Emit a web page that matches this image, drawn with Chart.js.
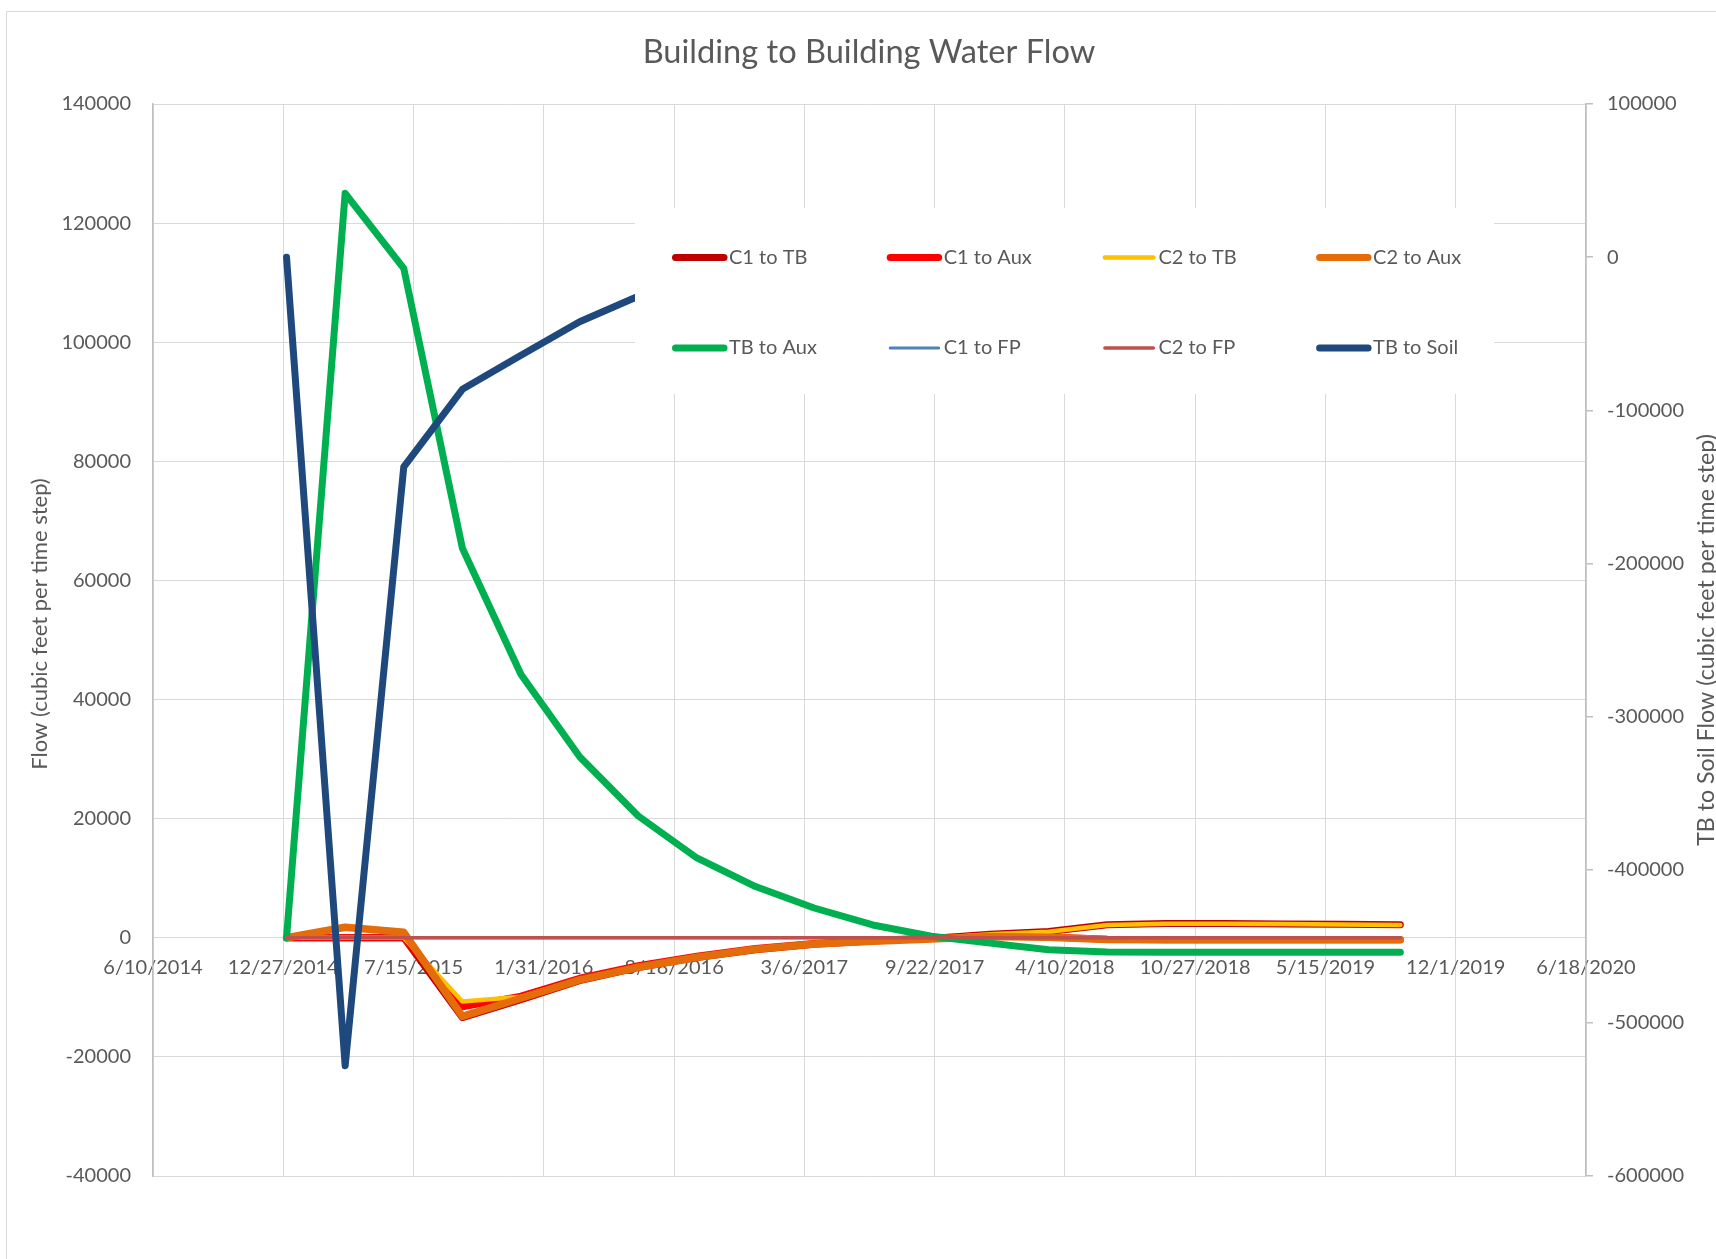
<!DOCTYPE html>
<html><head><meta charset="utf-8">
<script src="https://cdn.jsdelivr.net/npm/chart.js@4.4.1/dist/chart.umd.min.js"></script>
<style>
html,body{margin:0;padding:0;background:#fff;overflow:hidden;width:1716px;height:1259px;}
#frame{position:absolute;left:6px;top:11px;width:1800px;height:1400px;border:1px solid #d9d9d9;box-sizing:border-box;}
canvas{position:absolute;left:0;top:0;}
</style></head><body>
<div id="frame"></div>
<canvas id="c" width="1716" height="1259"></canvas>
<script>
const chartTitle = 'Building to Building Water Flow';
const leftAxisTitle = 'Flow (cubic feet per time step)';
const rightAxisTitle = 'TB to Soil Flow (cubic feet per time step)';

const dates = ['1/1/2015','4/1/2015','6/30/2015','9/28/2015','12/27/2015','3/26/2016','6/24/2016','9/22/2016','12/21/2016','3/21/2017',
               '6/19/2017','9/17/2017','12/16/2017','3/16/2018','6/14/2018','9/12/2018','12/11/2018','3/11/2019','6/9/2019','9/7/2019'];

const xTickLabels = ['6/10/2014','12/27/2014','7/15/2015','1/31/2016','8/18/2016','3/6/2017','9/22/2017','4/10/2018','10/27/2018','5/15/2019','12/1/2019','6/18/2020'];
const leftTicks = [-40000,-20000,0,20000,40000,60000,80000,100000,120000,140000];
const rightTicks = [-600000,-500000,-400000,-300000,-200000,-100000,0,100000];

const seriesNames = ['C1 to TB','C1 to Aux','C2 to TB','C2 to Aux','TB to Aux','C1 to FP','C2 to FP','TB to Soil'];

const c1ToTB  = [0, 0, 0, -13400, -10400, -7200, -5000, -3300, -2000, -1100, -550, -100, 600, 1050, 2200, 2380, 2380, 2330, 2280, 2180];
const c1ToAux = [0, 0, 0, -11600, -9800, -6800, -4700, -3100, -1800, -950, -450, -50, 300, 150, -250, -320, -320, -320, -320, -320];
const c2ToTB  = [0, 0, 0, -10700, -9900, -7000, -4900, -3250, -1950, -1050, -550, -100, 580, 1000, 2150, 2350, 2350, 2300, 2250, 2150];
const c2ToAux = [0, 1760, 920, -13200, -10160, -7080, -4950, -3280, -1940, -1040, -590, -200, 200, 100, -300, -350, -350, -350, -350, -350];
const tbToAux = [0, 125000, 112400, 65400, 44200, 30400, 20450, 13400, 8600, 5000, 2150, 250, -900, -2000, -2400, -2450, -2450, -2450, -2450, -2450];
const c1ToFP  = [0, 0, 0, 0, 0, 0, 0, 0, 0, 0, 0, 0, 0, 0, 0, 0, 0, 0, 0, 0];
const c2ToFP  = [0, 0, 0, 0, 0, 0, 0, 0, 0, 0, 0, 0, 0, 0, 0, 0, 0, 0, 0, 0];
const tbToSoil = [0, -528000, -137000, -86300, -64000, -42200, -25500, -15000, -9000, -5500, -3500, -2500, -2000, -1500, -1200, -1000, -1000, -1000, -1000, -1000];

const seriesValues = [c1ToTB, c1ToAux, c2ToTB, c2ToAux, tbToAux, c1ToFP, c2ToFP, tbToSoil];
const seriesColors = ['#C00000','#FF0000','#FFC000','#E46C0A','#00B050','#4F81BD','#C0504D','#1F497D'];
const seriesWidths = [7, 7, 4.5, 7.5, 7, 3, 3.5, 7];
const seriesAxis = ['y','y','y','y','y','y','y','y1'];

function dayNum(s){ const p = s.split('/').map(Number); return Date.UTC(p[2], p[0]-1, p[1]) / 86400000; }
function fmtDay(v){ const d = new Date(Math.round(v) * 86400000); return (d.getUTCMonth()+1) + '/' + d.getUTCDate() + '/' + d.getUTCFullYear(); }

const xs = dates.map(dayNum);
const FONT = 'Lato';
const TXT = '#595959';

const datasets = seriesNames.map((name, i) => ({
  label: name,
  data: seriesValues[i].map((v, k) => ({x: xs[k], y: v})),
  borderColor: seriesColors[i],
  backgroundColor: seriesColors[i],
  borderWidth: seriesWidths[i],
  pointRadius: 0,
  pointHoverRadius: 0,
  tension: 0,
  fill: false,
  borderCapStyle: 'round',
  borderJoinStyle: 'round',
  yAxisID: seriesAxis[i],
  order: seriesNames.length - i
}));

const overlay = {
  id: 'overlay',
  afterDraw(chart) {
    const ctx = chart.ctx;
    ctx.save();
    // chart title
    ctx.fillStyle = TXT;
    ctx.textAlign = 'center';
    ctx.textBaseline = 'middle';
    ctx.font = '32.6px ' + FONT;
    ctx.fillText(chartTitle, 869, 52);
    // legend (drawn over plot, like the original)
    ctx.fillStyle = '#ffffff';
    ctx.fillRect(635, 208, 859, 186);
    ctx.font = '20px ' + FONT;
    ctx.textAlign = 'left';
    chart.data.datasets.forEach((ds, i) => {
      const col = i % 4, row = Math.floor(i / 4);
      const x0 = 672 + col * 214.7;
      const y = 257.5 + row * 90.5;
      ctx.strokeStyle = ds.borderColor;
      ctx.lineWidth = Math.min(ds.borderWidth, 7);
      ctx.lineCap = 'round';
      ctx.beginPath();
      ctx.moveTo(x0 + 3.5, y);
      ctx.lineTo(x0 + 52, y);
      ctx.stroke();
      ctx.fillStyle = TXT;
      ctx.fillText(ds.label, x0 + 57, y);
    });
    // axis titles, both reading bottom to top
    ctx.textAlign = 'center';
    ctx.fillStyle = TXT;
    ctx.save();
    ctx.translate(40, 624);
    ctx.rotate(-Math.PI / 2);
    ctx.font = '22px ' + FONT;
    ctx.fillText(leftAxisTitle, 0, 0);
    ctx.restore();
    ctx.save();
    ctx.translate(1707, 640);
    ctx.rotate(-Math.PI / 2);
    ctx.font = '23.2px ' + FONT;
    ctx.fillText(rightAxisTitle, 0, 0);
    ctx.restore();
    ctx.restore();
  }
};

new Chart(document.getElementById('c'), {
  type: 'line',
  data: { datasets },
  plugins: [overlay],
  options: {
    responsive: false,
    animation: false,
    events: [],
    layout: { padding: { left: 0, right: 0, top: 104, bottom: 83 } },
    plugins: {
      legend: { display: false },
      tooltip: { enabled: false },
      title: { display: false }
    },
    scales: {
      x: {
        type: 'linear',
        position: { y: 0 },
        min: dayNum(xTickLabels[0]),
        max: dayNum(xTickLabels[xTickLabels.length - 1]),
        afterBuildTicks: (s) => { s.ticks = xTickLabels.map(t => ({ value: dayNum(t) })); },
        ticks: {
          autoSkip: false, maxRotation: 0, minRotation: 0, padding: 18,
          color: TXT, font: { family: FONT, size: 20 },
          callback: (v) => fmtDay(v)
        },
        grid: { color: '#d9d9d9', lineWidth: 1, drawTicks: false },
        border: { color: '#d9d9d9', width: 1 }
      },
      y: {
        position: 'left',
        min: leftTicks[0],
        max: leftTicks[leftTicks.length - 1],
        afterBuildTicks: (s) => { s.ticks = leftTicks.map(v => ({ value: v })); },
        afterFit: (s) => { s.width = 153; },
        ticks: { padding: 22, color: TXT, font: { family: FONT, size: 20 }, callback: (v) => String(v) },
        grid: { color: '#d9d9d9', lineWidth: 1, drawTicks: false },
        border: { color: '#bfbfbf', width: 1.5 }
      },
      y1: {
        position: 'right',
        min: rightTicks[0],
        max: rightTicks[rightTicks.length - 1],
        afterBuildTicks: (s) => { s.ticks = rightTicks.map(v => ({ value: v })); },
        afterFit: (s) => { s.width = 130; },
        ticks: { padding: 14, color: TXT, font: { family: FONT, size: 20 }, callback: (v) => String(v) },
        grid: { drawOnChartArea: false, drawTicks: true, tickLength: 7, color: '#bfbfbf', lineWidth: 1.5 },
        border: { color: '#bfbfbf', width: 1.5 }
      }
    }
  }
});
</script>
</body></html>
